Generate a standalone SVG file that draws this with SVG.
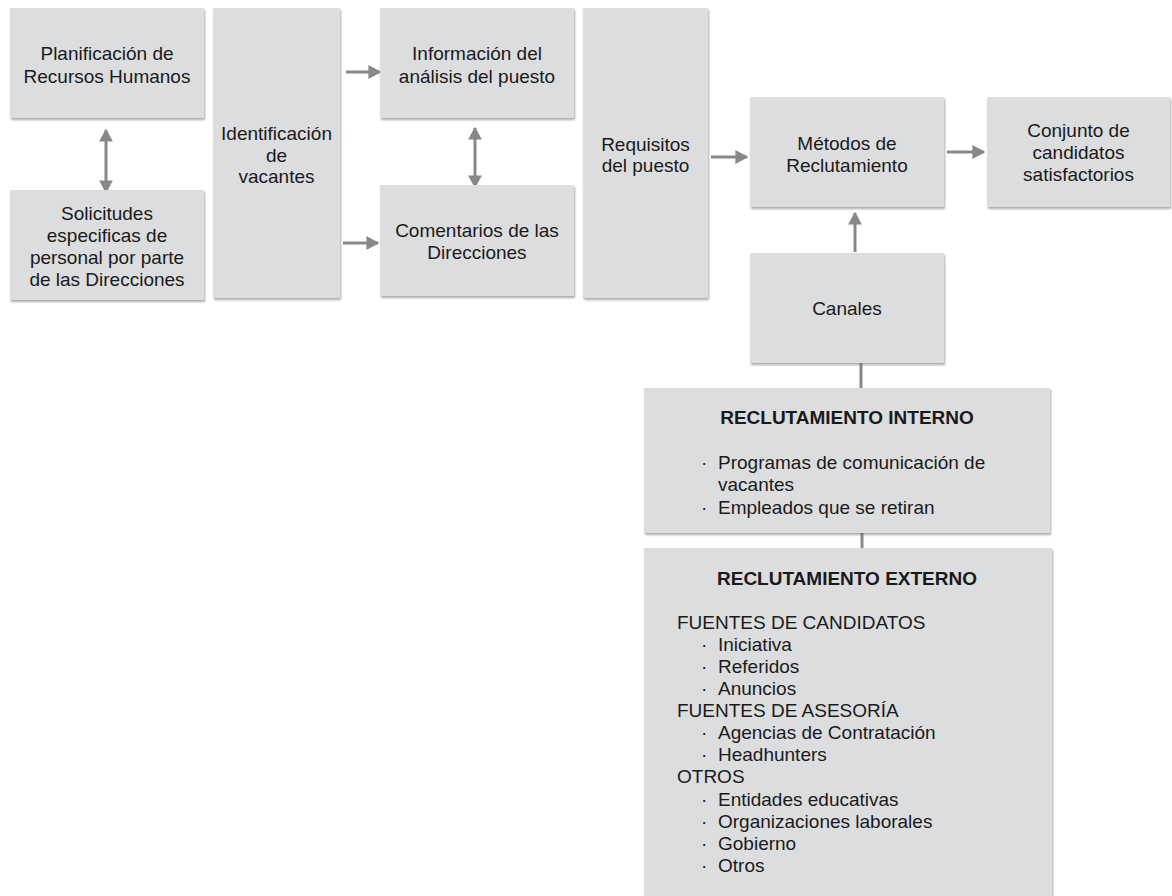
<svg xmlns="http://www.w3.org/2000/svg" width="1172" height="896" viewBox="0 0 1172 896">
<defs>
<filter id="sh" x="-5%" y="-5%" width="110%" height="115%">
<feDropShadow dx="1" dy="2" stdDeviation="1" flood-color="#666" flood-opacity="0.55"/>
</filter>
<marker id="ah" viewBox="0 0 10 10" refX="9" refY="5" markerWidth="4.3" markerHeight="4.6" orient="auto-start-reverse" markerUnits="strokeWidth" preserveAspectRatio="none">
<path d="M0,0 L10,5 L0,10 z" fill="#87888a"/>
</marker>
<style>
.box{fill:#dcdddf;filter:url(#sh)}
.t{font-family:"Liberation Sans",Arial,sans-serif;font-size:19px;fill:#1a1a1a}
.c{text-anchor:middle}
.b{font-weight:bold}
.ln{stroke:#87888a;stroke-width:3;fill:none}
.ar{marker-end:url(#ah)}
.bi{marker-start:url(#ah);marker-end:url(#ah)}
</style>
</defs>
<rect width="1172" height="896" fill="#fff"/>
<g id="connectors">
<line class="ln ar" x1="346" y1="72" x2="380" y2="72"/>
<line class="ln ar" x1="343" y1="243" x2="378" y2="243"/>
<line class="ln bi" x1="106" y1="130" x2="106" y2="192"/>
<line class="ln bi" x1="475" y1="128" x2="475" y2="187"/>
<line class="ln ar" x1="711" y1="157" x2="747" y2="157"/>
<line class="ln ar" x1="947" y1="152" x2="984" y2="152"/>
<line class="ln ar" x1="855" y1="252" x2="855" y2="213"/>
<line class="ln" x1="861" y1="363" x2="861" y2="389"/>
<line class="ln" x1="862" y1="533" x2="862" y2="549"/>
</g>
<g id="planificacion">
<rect class="box" x="10" y="8" width="194" height="110"/>
<text class="t c" x="107" y="60">Planificación de</text>
<text class="t c" x="107" y="83">Recursos Humanos</text>
</g>
<g id="solicitudes">
<rect class="box" x="10" y="190" width="194" height="110"/>
<text class="t c" x="107" y="220">Solicitudes</text>
<text class="t c" x="107" y="242">especificas de</text>
<text class="t c" x="107" y="264">personal por parte</text>
<text class="t c" x="107" y="286">de las Direcciones</text>
</g>
<g id="identificacion">
<rect class="box" x="213" y="8" width="127" height="290"/>
<text class="t c" x="276.5" y="140">Identificación</text>
<text class="t c" x="276.5" y="162">de</text>
<text class="t c" x="276.5" y="183">vacantes</text>
</g>
<g id="informacion">
<rect class="box" x="380" y="8" width="194" height="110"/>
<text class="t c" x="477" y="60">Información del</text>
<text class="t c" x="477" y="83">análisis del puesto</text>
</g>
<g id="comentarios">
<rect class="box" x="380" y="185" width="194" height="111"/>
<text class="t c" x="477" y="237">Comentarios de las</text>
<text class="t c" x="477" y="259">Direcciones</text>
</g>
<g id="requisitos">
<rect class="box" x="583" y="8" width="125" height="290"/>
<text class="t c" x="645.5" y="151">Requisitos</text>
<text class="t c" x="645.5" y="172">del puesto</text>
</g>
<g id="metodos">
<rect class="box" x="750" y="97" width="194" height="110"/>
<text class="t c" x="847" y="150">Métodos de</text>
<text class="t c" x="847" y="172">Reclutamiento</text>
</g>
<g id="conjunto">
<rect class="box" x="987" y="97" width="183" height="110"/>
<text class="t c" x="1078.5" y="137">Conjunto de</text>
<text class="t c" x="1078.5" y="159">candidatos</text>
<text class="t c" x="1078.5" y="181">satisfactorios</text>
</g>
<g id="canales">
<rect class="box" x="750" y="253" width="194" height="110"/>
<text class="t c" x="847" y="315">Canales</text>
</g>
<g id="interno">
<rect class="box" x="644" y="388" width="406" height="145"/>
<text class="t c b" x="847" y="424">RECLUTAMIENTO INTERNO</text>
<text class="t" x="701" y="469">·</text><text class="t" x="718" y="469">Programas de comunicación de</text>
<text class="t" x="718" y="491">vacantes</text>
<text class="t" x="701" y="514">·</text><text class="t" x="718" y="514">Empleados que se retiran</text>
</g>
<g id="externo">
<rect class="box" x="644" y="548" width="408" height="360"/>
<text class="t c b" x="847" y="585">RECLUTAMIENTO EXTERNO</text>
<text class="t" x="677" y="629">FUENTES DE CANDIDATOS</text>
<text class="t" x="701" y="651">·</text><text class="t" x="718" y="651">Iniciativa</text>
<text class="t" x="701" y="673">·</text><text class="t" x="718" y="673">Referidos</text>
<text class="t" x="701" y="695">·</text><text class="t" x="718" y="695">Anuncios</text>
<text class="t" x="677" y="717">FUENTES DE ASESORÍA</text>
<text class="t" x="701" y="739">·</text><text class="t" x="718" y="739">Agencias de Contratación</text>
<text class="t" x="701" y="761">·</text><text class="t" x="718" y="761">Headhunters</text>
<text class="t" x="677" y="783">OTROS</text>
<text class="t" x="701" y="806">·</text><text class="t" x="718" y="806">Entidades educativas</text>
<text class="t" x="701" y="828">·</text><text class="t" x="718" y="828">Organizaciones laborales</text>
<text class="t" x="701" y="850">·</text><text class="t" x="718" y="850">Gobierno</text>
<text class="t" x="701" y="872">·</text><text class="t" x="718" y="872">Otros</text>
</g>
</svg>
